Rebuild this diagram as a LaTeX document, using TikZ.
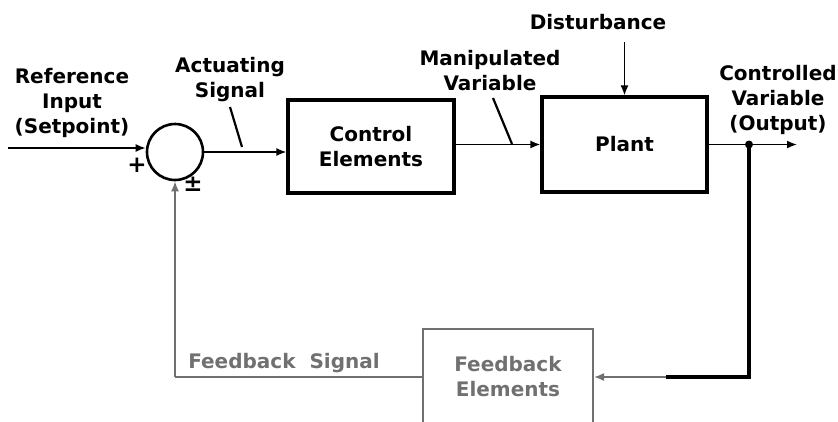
\documentclass[tikz,border=0pt]{standalone}
\usepackage{fontspec}
\setmainfont{DejaVu Sans}
\usetikzlibrary{arrows.meta,calc}
\definecolor{fbgrey}{RGB}{112,112,112}
\begin{document}
\begin{tikzpicture}[x=1pt,y=-1pt,
  lbl/.style={font=\bfseries\fontsize{20}{25}\selectfont, align=center, inner sep=0pt},
  blk/.style={draw, line width=3.2pt, rectangle, inner sep=0pt, lbl},
  sig/.style={line width=1.6pt},
  arr/.style={sig, -{Latex[length=10pt,width=8pt]}},
  ptr/.style={line width=2.2pt}]
\useasboundingbox (0,0) rectangle (838,421);

% blocks
\node[draw, circle, line width=2.6pt, minimum size=56pt, inner sep=0pt] (sum) at (175,152) {};
\node[blk, minimum width=166pt, minimum height=93pt] (ctrl) at (371,146.5) {Control\\Elements};
\node[blk, minimum width=165pt, minimum height=95pt] (plant) at (624.5,144.5) {Plant};
\node[blk, draw=fbgrey, text=fbgrey, line width=2pt, minimum width=170pt, minimum height=96pt] (fb) at (508,377) {Feedback\\Elements};

% labels
\node[lbl] (ref) at (72,103) {Reference\\Input\\(Setpoint)};
\node[lbl] (act) at (230,80) {Actuating\\Signal};
\node[lbl] (man) at (490,71) {Manipulated\\Variable};
\node[lbl] (dist) at (598,22) {Disturbance};
\node[lbl] (cv) at (778,100) {Controlled\\Variable\\(Output)};
\node[lbl, text=fbgrey] (fbs) at (284,363) {Feedback\hspace{0.7em}Signal};
\node[lbl, font=\bfseries\fontsize{23}{25}\selectfont] (plus) at (137,165) {+};
\node[lbl, font=\bfseries\fontsize{23}{25}\selectfont] (pm) at (193,184) {±};

% free ends and junction
\coordinate (in) at (8,148);
\coordinate (out) at (797,144.5);
\coordinate (j) at (749,144.5);
\coordinate (dtop) at (624.5,42);
\coordinate (actA) at (230,107);
\coordinate (actB) at (242,147);
\coordinate (manA) at (493,98);
\coordinate (manB) at (512,144);

% forward path
\draw[arr] (in) -- (in -| sum.west);
\draw[arr] (sum.east) -- (ctrl.west |- sum.east);
\draw[arr] (ctrl.east |- plant.west) -- (plant.west);
\draw[arr] (dtop) -- (plant.north);
\draw[arr] (plant.east) -- (out);
\fill (j) circle (4pt);

% pointers to the signals
\draw[ptr] (actA) -- (actB);
\draw[ptr] (manA) -- (manB);

% feedback path
\draw[line width=3.2pt] (j) -- (j |- fb.east) -- ++(-83,0);
\draw[sig, fbgrey, -{Latex[length=10pt,width=8pt]}] ($(j |- fb.east)+(-83,0)$) -- (fb.east);
\draw[sig, fbgrey] (fb.west) -- (fb.west -| sum.south);
\draw[arr, fbgrey] (fb.west -| sum.south) -- (sum.south);
\end{tikzpicture}
\end{document}
